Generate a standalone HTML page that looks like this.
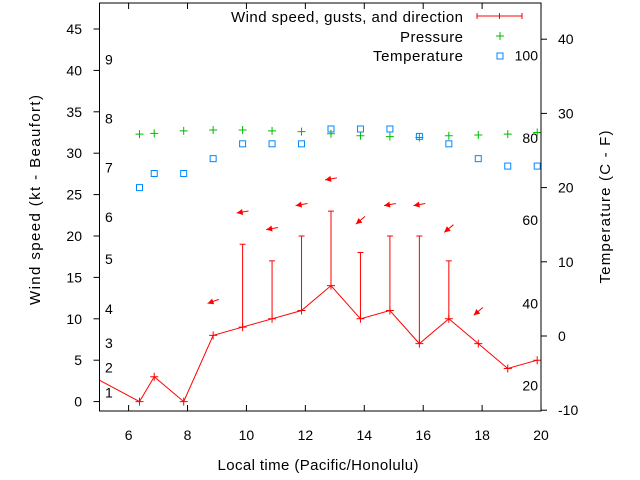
<!DOCTYPE html>
<html><head><meta charset="utf-8"><style>
html,body{margin:0;padding:0;background:#fff;}
svg{display:block;font-family:"Liberation Sans",sans-serif;}
</style></head><body>
<svg id="chart" width="640" height="480" viewBox="0 0 640 480" xmlns="http://www.w3.org/2000/svg">
<rect width="640" height="480" fill="#fff"/>
<g id="plot"></g>
</svg>
<script>
const times = [4.87,6.37,6.87,7.87,8.87,9.87,10.87,11.87,12.87,13.87,14.87,15.87,16.87,17.87,18.87,19.87];
const windSpeed = [2.85,0,3,0,8,9,10,11,14,10,11,7,10,7,4,5];
const gustTimes = [9.87,10.87,11.87,12.87,13.87,14.87,15.87,16.87];
const gustValues = [19,17,20,23,18,20,20,17];
const pressureTimes = [6.37,6.87,7.87,8.87,9.87,10.87,11.87,12.87,13.87,14.87,15.87,16.87,17.87,18.87,19.87];
const pressureValues = [32.3,32.4,32.7,32.8,32.8,32.7,32.6,32.35,32.1,32.0,31.9,32.1,32.2,32.3,32.5];
const tempTimes = [6.37,6.87,7.87,8.87,9.87,10.87,11.87,12.87,13.87,14.87,15.87,16.87,17.87,18.87,19.87];
const tempValues = [20,21.9,21.9,23.9,25.9,25.9,25.9,27.9,27.9,27.9,26.9,25.9,23.9,22.9,22.9];
const arrowTimes = [8.87,9.87,10.87,11.87,12.87,13.87,14.87,15.87,16.87,17.87];
const arrowLevels = [12.1,22.9,20.9,23.8,26.9,21.9,23.8,23.8,20.9,10.9];
const arrowAngles = [200,190,190,190,190,220,190,190,220,220];
const xTicks = [6,8,10,12,14,16,18,20];
const yTicks = [0,5,10,15,20,25,30,35,40,45];
const tTicks = [-10,0,10,20,30,40];
const beaufortLabels = ["1","2","3","4","5","6","7","8","9"];
const beaufortLevels = [1.1,4.1,7.1,11.2,17.2,22.3,28.3,34.2,41.3];
const fLabels = ["20","40","60","80","100"];
const fLevels = [-6.7,4.4,15.6,26.7,37.8];

const L=99.5,R=541,T=3,B=411;
const X=t=>128.6+(t-6)*29.46;
const Y=v=>401.6-v*8.28;
const YT=c=>336-c*7.42;
const NS="http://www.w3.org/2000/svg";
const g=document.getElementById('plot');
function el(tag,attrs,parent){const e=document.createElementNS(NS,tag);for(const k in attrs)e.setAttribute(k,attrs[k]);(parent||g).appendChild(e);return e;}
function txt(s,x,y,anchor,size){const e=el('text',{x:x,y:y,'text-anchor':anchor||'middle','font-size':size||14,fill:'#000'});e.textContent=s;return e;}

const defs=el('defs',{});
const cp=el('clipPath',{id:'clip'},defs);
el('rect',{x:L,y:T,width:R-L,height:B-T},cp);

xTicks.forEach(t=>{
  const x=X(t);
  const a=el('line',{x1:x,y1:B,x2:x,y2:B-6,stroke:'#000'});
  
  
  el('line',{x1:x,y1:T,x2:x,y2:T+6,stroke:'#000'});
  const l=txt(String(t),x,440);
  
  
});
yTicks.forEach(v=>{
  const y=Y(v);
  const a=el('line',{x1:L,y1:y,x2:L-6,y2:y,stroke:'#000'});
  
  
  const l=txt(String(v),82,y+5,'end');
  
  
});
tTicks.forEach(c=>{
  const y=YT(c);
  el('line',{x1:R,y1:y,x2:R+6,y2:y,stroke:'#000'});
  const l=txt(String(c),558,y+5,'start');
  
  
});
beaufortLabels.forEach((s,i)=>{
  const l=txt(s,105,Y(beaufortLevels[i])+5,'start');
  
  
});
fLabels.forEach((s,i)=>{
  const l=txt(s,538,YT(fLevels[i])+5,'end');
  
  
});

const data=el('g',{'clip-path':'url(#clip)'});
const pts=times.map((t,i)=>X(t)+','+Y(windSpeed[i])).join(' ');
const wl=el('polyline',{points:pts,fill:'none',stroke:'#f00','stroke-width':1},data);


times.forEach((t,i)=>{
  const x=X(t),y=Y(windSpeed[i]);
  const p=el('path',{d:`M${x-4},${y}H${x+4}M${x},${y-4}V${y+4}`,stroke:'#f00'},data);
  
  
});
gustTimes.forEach((t,i)=>{
  const x=X(t);const j=times.indexOf(t);
  const y0=Y(windSpeed[j]),y1=Y(gustValues[i]);
  const p=el('path',{d:`M${x},${y0}V${y1}M${x-3},${y1}H${x+3}`,stroke:'#f00'},data);
  
  
});
arrowTimes.forEach((t,i)=>{
  const x=X(t),y=Y(arrowLevels[i]);
  const a=arrowAngles[i]*Math.PI/180;
  const dx=Math.cos(a),dy=-Math.sin(a);
  const x1=x-dx*6,y1=y-dy*6,x2=x+dx*6,y2=y+dy*6;
  const px=-dy,py=dx;
  const gArr=el('g',{},data);
  
  
  el('line',{x1:x1,y1:y1,x2:x2,y2:y2,stroke:'#f00'},gArr);
  el('polygon',{points:`${x2},${y2} ${x2-dx*6+px*3},${y2-dy*6+py*3} ${x2-dx*6-px*3},${y2-dy*6-py*3}`,fill:'#f00'},gArr);
});
pressureTimes.forEach((t,i)=>{
  const x=X(t),y=Y(pressureValues[i]);
  const p=el('path',{d:`M${x-4},${y}H${x+4}M${x},${y-4}V${y+4}`,stroke:'#0b0'},data);
  
  
});
tempTimes.forEach((t,i)=>{
  const x=X(t),y=YT(tempValues[i]);
  const r=el('rect',{x:x-3,y:y-3,width:6,height:6,fill:'none',stroke:'#08f'},data);
  
  
});

const fr=el('rect',{x:L,y:T,width:R-L,height:B-T,fill:'none',stroke:'#000'});



const lg=el('g',{});


let e;
e=txt('Wind speed, gusts, and direction',463,22,'end',15);e.setAttribute('textLength','232');lg.appendChild(e);
el('path',{d:'M477,16H522M477,13V19M522,13V19M499.5,13V19',stroke:'#f00'},lg);
e=txt('Pressure',463,42,'end',15);e.setAttribute('textLength','63');lg.appendChild(e);
el('path',{d:'M496,36H504M500,32V40',stroke:'#0b0'},lg);
e=txt('Temperature',463,61,'end',15);e.setAttribute('textLength','90');lg.appendChild(e);
el('rect',{x:497,y:53,width:6,height:6,fill:'none',stroke:'#08f'},lg);

const xt=txt('Local time (Pacific/Honolulu)',318,470,'middle',15);
xt.setAttribute('textLength','201');


const yt=txt('Wind speed (kt - Beaufort)',0,0,'middle',15);
yt.setAttribute('textLength','210');
yt.setAttribute('transform','translate(40,200) rotate(-90)');


const yt2=txt('Temperature (C - F)',0,0,'middle',15);
yt2.setAttribute('textLength','153');
yt2.setAttribute('transform','translate(610,207) rotate(-90)');


</script>
</body></html>
